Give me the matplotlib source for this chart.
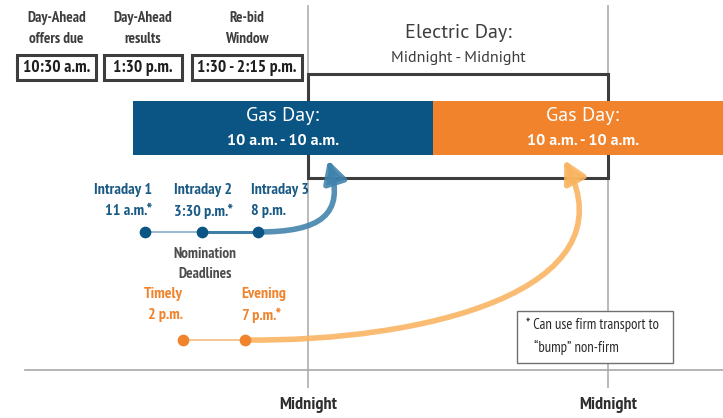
import matplotlib.pyplot as plt
from matplotlib import font_manager
from matplotlib.patches import Rectangle, FancyArrowPatch, ArrowStyle
from matplotlib.path import Path

# ------------------------------------------------------------
# data (hours relative to the first midnight)
# ------------------------------------------------------------
midnight_hours = [0, 24]
midnight_labels = ["Midnight", "Midnight"]

electric_day = [0, 24]
gas_day_starts = [-14, 10]
gas_day_length = 24

intraday_names = ["Intraday 1", "Intraday 2", "Intraday 3"]
intraday_times = ["11 a.m.*", "3:30 p.m.*", "8 p.m."]
intraday_hours = [-13, -8.5, -4]

timely_names = ["Timely", "Evening"]
timely_times = ["2 p.m.", "7 p.m.*"]
timely_hours = [-10, -5]

da_labels = ["Day-Ahead\noffers due", "Day-Ahead\nresults", "Re-bid\nWindow"]
da_times = ["10:30 a.m.", "1:30 p.m.", "1:30 - 2:15 p.m."]

note_lines = ["* Can use firm transport to", "\u201cbump\u201d non-firm"]


# ------------------------------------------------------------
# fonts: pick a condensed face (Myriad Condensed look) and a plain one
# ------------------------------------------------------------
def pick(cands):
    names = {f.name for f in font_manager.fontManager.ttflist}
    for c in cands:
        if c in names:
            return [c, 'DejaVu Sans']
    return ['DejaVu Sans']


NARROW = pick(['PT Sans Narrow', 'Fira Sans Condensed', 'Asap Condensed',
               'Barlow Semi Condensed', 'Liberation Sans Narrow'])
PLAIN = pick(['PT Sans', 'Source Sans Pro', 'Lato'])
plt.rcParams['font.family'] = NARROW

BLUE = '#0a5583'
ORANGE = '#f0832b'
BLUE_TXT = '#1a5b86'
DARK = '#3d3d3d'
GRID = '#a8a8a8'

PX_PER_H = 12.5
MID_X = 308

fig = plt.figure(figsize=(7.23, 4.18), dpi=100)
ax = fig.add_axes([0, 0, 1, 1])
ax.set_xlim(-MID_X / PX_PER_H, (723 - MID_X) / PX_PER_H)
ax.set_ylim(418, 0)
ax.axis('off')

# overlay in pixel units for the free layout pieces
lay = fig.add_axes([0, 0, 1, 1])
lay.set_xlim(0, 723)
lay.set_ylim(418, 0)
lay.axis('off')
lay.patch.set_alpha(0)

# time axis + midnight lines
lay.plot([25, 723], [370, 370], color=GRID, lw=1.2)
ax.vlines(midnight_hours, 5, 388, color=GRID, lw=1.1, zorder=1)
for h, lab in zip(midnight_hours, midnight_labels):
    ax.text(h, 405, lab, ha='center', va='center', fontsize=13,
            fontweight='bold', color='#2e2e2e')

# electric day box
ax.add_patch(Rectangle((electric_day[0], 74), electric_day[1] - electric_day[0], 104,
                       fill=False, edgecolor=DARK, lw=2.2, zorder=2))
mid_e = (electric_day[0] + electric_day[1]) / 2
ax.text(mid_e, 33, "Electric Day:", ha='center', va='center', fontsize=14.5,
        family=PLAIN, color=DARK)
ax.text(mid_e, 58, "Midnight - Midnight", ha='center', va='center', fontsize=11.5,
        family=PLAIN, color=DARK)

# gas day bars
ax.barh(128, gas_day_length, left=gas_day_starts, height=54,
        color=[BLUE, ORANGE], zorder=3)
for s in gas_day_starts:
    c = s + gas_day_length / 2
    ax.text(c, 116, "Gas Day:", ha='center', va='center', fontsize=14.5,
            family=PLAIN, color='white', zorder=4)
    ax.text(c, 141, "10 a.m. - 10 a.m.", ha='center', va='center', fontsize=11.5,
            family=PLAIN, fontweight='bold', color='white', zorder=4)

# top boxes
box_x = [(17, 96), (104, 182), (192, 302)]
for (x0, x1), lab, t in zip(box_x, da_labels, da_times):
    cx = (x0 + x1) / 2
    l1, l2 = lab.split("\n")
    lay.text(cx, 18, l1, ha='center', va='center', fontsize=11, fontweight='bold', color=DARK)
    lay.text(cx, 39, l2, ha='center', va='center', fontsize=11, fontweight='bold', color=DARK)
    lay.add_patch(Rectangle((x0, 55), x1 - x0, 25, fill=False, edgecolor=DARK, lw=2.2))
    lay.text(cx, 68, t, ha='center', va='center', fontsize=12.5, fontweight='bold', color='#1e1e1e')

# intraday nominations
Y_I = 232
ax.plot(intraday_hours[:2], [Y_I, Y_I], color='#8fb3cc', lw=1.3, zorder=4)
ax.plot(intraday_hours[1:], [Y_I, Y_I], color='#3f7ea6', lw=2.2, zorder=4)
h3 = intraday_hours[-1]
blue_path = Path([(h3, Y_I), (h3 + 5, Y_I), (h3 + 7, 215), (h3 + 5.6, 160)],
                 [Path.MOVETO, Path.CURVE4, Path.CURVE4, Path.CURVE4])
ax.add_patch(FancyArrowPatch(path=blue_path,
                             arrowstyle=ArrowStyle('-|>', head_length=13, head_width=7),
                             mutation_scale=1, color='#3f82ab', alpha=0.88, lw=4,
                             shrinkA=0, shrinkB=0, zorder=5))
ax.scatter(intraday_hours, [Y_I] * len(intraday_hours), s=55, color=BLUE, zorder=6)
align = [('right', 0.5), ('center', 0.1), ('left', -0.55)]
for h, n, t, (ha, dx) in zip(intraday_hours, intraday_names, intraday_times, align):
    ax.text(h + dx, 190, n, ha=ha, va='center', fontsize=11.5, fontweight='bold', color=BLUE_TXT)
    ax.text(h + dx, 211, t, ha=ha, va='center', fontsize=11.5, fontweight='bold', color=BLUE_TXT)

lay.text(205, 254, "Nomination", ha='center', va='center', fontsize=11, fontweight='bold', color='#4d4d4d')
lay.text(205, 274, "Deadlines", ha='center', va='center', fontsize=11, fontweight='bold', color='#4d4d4d')

# timely / evening
Y_T = 340
ax.plot(timely_hours, [Y_T, Y_T], color='#f7c08a', lw=1.3, zorder=4)
h2 = timely_hours[-1]
orange_path = Path([(h2, Y_T), (h2 + 14, 342), (h2 + 31, 292), (h2 + 25.5, 160)],
                   [Path.MOVETO, Path.CURVE4, Path.CURVE4, Path.CURVE4])
ax.add_patch(FancyArrowPatch(path=orange_path,
                             arrowstyle=ArrowStyle('-|>', head_length=13, head_width=7),
                             mutation_scale=1, color='#f9b35f', alpha=0.88, lw=4,
                             shrinkA=0, shrinkB=0, zorder=5))
ax.scatter(timely_hours, [Y_T] * len(timely_hours), s=55, color=ORANGE, zorder=6)
align_t = [('right', 0.0), ('left', -0.3)]
for h, n, t, (ha, dx) in zip(timely_hours, timely_names, timely_times, align_t):
    ax.text(h + dx, 294, n, ha=ha, va='center', fontsize=11.5, fontweight='bold', color=ORANGE)
    ax.text(h + dx, 315, t, ha=ha, va='center', fontsize=11.5, fontweight='bold', color=ORANGE)

# footnote
lay.add_patch(Rectangle((517, 311), 156, 52, facecolor='white', edgecolor='#707070', lw=1, zorder=3))
lay.text(526, 325, note_lines[0], ha='left', va='center', fontsize=10.5, color='#2a2a2a', zorder=4)
lay.text(534, 347, note_lines[1], ha='left', va='center', fontsize=10.5, color='#2a2a2a', zorder=4)

fig.savefig('out.png', dpi=100)
